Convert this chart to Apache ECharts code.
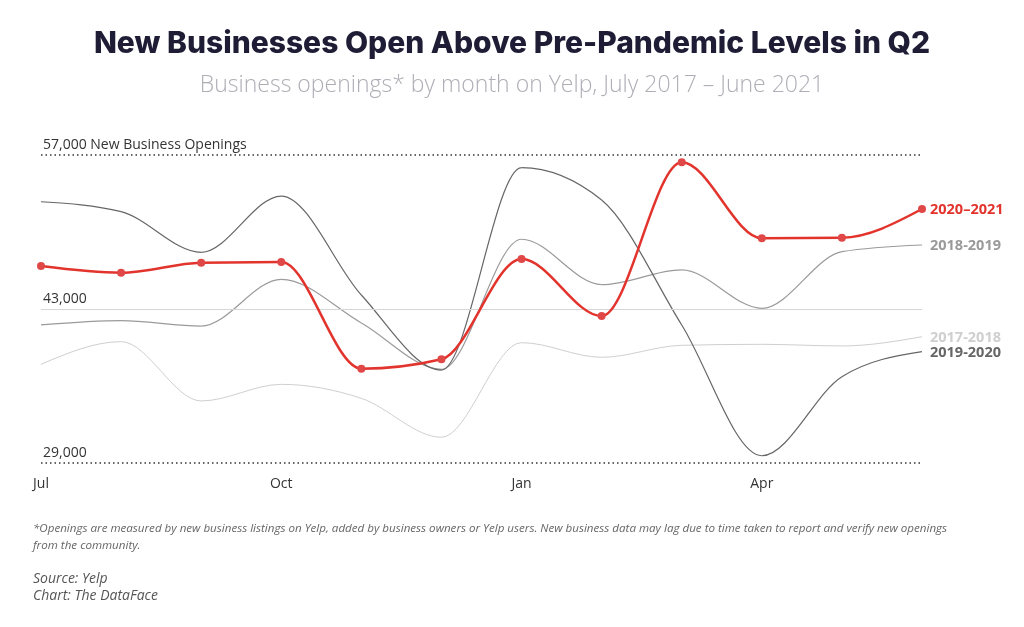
<!DOCTYPE html>
<html>
<head>
<meta charset="utf-8">
<script src="https://cdn.jsdelivr.net/npm/echarts@6/dist/echarts.min.js"></script>
<style>
html,body{margin:0;padding:0;background:#fff;}
#chart{width:1024px;height:627px;}
</style>
</head>
<body>
<div id="chart"></div>
<script>
const months = ['Jul','Aug','Sep','Oct','Nov','Dec','Jan','Feb','Mar','Apr','May','Jun'];
const s2017 = [37970, 40030, 34640, 36150, 34880, 31340, 39940, 38610, 39700, 39790, 39640, 40480];
const s2018 = [41550, 41940, 41450, 45700, 41730, 37520, 49340, 45210, 46550, 43060, 48210, 48820];
const s2019 = [52750, 51850, 48150, 53270, 44270, 37450, 55850, 52910, 41550, 29660, 36850, 39120];
const s2020 = [46900, 46300, 47210, 47270, 37570, 38430, 47545, 42360, 56340, 49430, 49480, 52090];
const refLines = [57000, 43000, 29000];
const refLabels = ['57,000 New Business Openings', '43,000', '29,000'];

const chart = echarts.init(document.getElementById('chart'), null, {renderer:'canvas'});
const font = '"Open Sans", "DejaVu Sans", sans-serif';

// monotone-X cubic tangents (as in d3.curveMonotoneX), computed in pixel space
function tangents(pts) {
  const n = pts.length, t = new Array(n);
  const sgn = v => v < 0 ? -1 : 1;
  for (let i = 1; i < n - 1; i++) {
    const h0 = pts[i][0] - pts[i-1][0], h1 = pts[i+1][0] - pts[i][0];
    const s0 = (pts[i][1] - pts[i-1][1]) / h0, s1 = (pts[i+1][1] - pts[i][1]) / h1;
    const p = (s0 * h1 + s1 * h0) / (h0 + h1);
    t[i] = (sgn(s0) + sgn(s1)) * Math.min(Math.abs(s0), Math.abs(s1), 0.5 * Math.abs(p)) || 0;
  }
  const hs = pts[1][0] - pts[0][0];
  t[0] = (3 * (pts[1][1] - pts[0][1]) / hs - t[1]) / 2;
  const he = pts[n-1][0] - pts[n-2][0];
  t[n-1] = (3 * (pts[n-1][1] - pts[n-2][1]) / he - t[n-2]) / 2;
  return t;
}

function curveSeries(name, values, color, width, dots, z) {
  return {
    name: name, type: 'custom', z: z, silent: true,
    data: values.map((v, i) => [i, v]),
    renderItem: function (params, api) {
      const i = params.dataIndex;
      const pts = values.map((v, k) => api.coord([k, v]));
      const t = tangents(pts);
      const children = [];
      if (i < pts.length - 1) {
        const a = pts[i], b = pts[i+1], dx = (b[0] - a[0]) / 3;
        children.push({
          type: 'bezierCurve',
          shape: {x1: a[0], y1: a[1], x2: b[0], y2: b[1],
                  cpx1: a[0] + dx, cpy1: a[1] + dx * t[i],
                  cpx2: b[0] - dx, cpy2: b[1] - dx * t[i+1]},
          style: {stroke: color, lineWidth: width, fill: null}
        });
      }
      if (dots) {
        children.push({type: 'circle', z2: 10, shape: {cx: pts[i][0], cy: pts[i][1], r: 4},
          style: {fill: '#e04848'}});
      }
      if (i === pts.length - 1) {
        children.push({type: 'text', x: pts[i][0] + 8, y: pts[i][1] + 1,
          style: {text: name, fill: color, font: 'bold 14.5px "Open Sans", sans-serif',
                  align: 'left', verticalAlign: 'middle'}});
      }
      return {type: 'group', children: children};
    }
  };
}

const option = {
  animation: false,
  backgroundColor: '#fff',
  title: [
    {text: 'New Businesses Open Above Pre-Pandemic Levels in Q2', left: 'center', top: 24,
     textStyle: {fontFamily: 'Inter, "Open Sans", sans-serif', fontWeight: 800, fontSize: 30, color: '#1f1d35'}},
    {text: 'Business openings* by month on Yelp, July 2017 \u2013 June 2021', left: 'center', top: 69,
     textStyle: {fontFamily: font, fontWeight: 300, fontSize: 23, color: '#aeaeb6'}},
  ],
  graphic: [
    {type:'text', left: 33, top: 520, style:{text:'*Openings are measured by new business listings on Yelp, added by business owners or Yelp users. New business data may lag due to time taken to report and verify new openings\nfrom the community.', font:'italic 11.6px "Open Sans", sans-serif', fill:'#666', lineHeight: 17}},
    {type:'text', left: 33, top: 571, style:{text:'Source: Yelp\nChart: The DataFace', font:'italic 14px "Open Sans", sans-serif', fill:'#555', lineHeight: 17}}
  ],
  grid: {left: 41, right: 102, top: 155, bottom: 164, containLabel: false},
  xAxis: {
    type: 'category', data: months, boundaryGap: false,
    axisLine: {show: false}, axisTick: {show: false}, splitLine: {show: false},
    axisLabel: {interval: 2, color: '#333', fontFamily: font, fontSize: 14, margin: 14}
  },
  yAxis: {
    type: 'value', min: 29000, max: 57000,
    axisLine: {show: false}, axisTick: {show: false}, splitLine: {show: false}, axisLabel: {show: false}
  },
  series: [
    {
      name: 'ref', type: 'line', data: [], silent: true,
      markLine: {
        silent: true, symbol: 'none', animation: false,
        label: {show: true, position: 'insideStartTop', color: '#333', fontFamily: font, fontSize: 14, distance: [2, 3]},
        data: refLines.map((v, i) => ({
          yAxis: v,
          label: {formatter: refLabels[i]},
          lineStyle: i === 1 ? {type: 'solid', color: '#d6d6d6', width: 1} : {type: [1.5, 3], color: '#333', width: 1.5}
        }))
      }
    },
    curveSeries('2017-2018', s2017, '#cfcfcf', 1, false, 2),
    curveSeries('2018-2019', s2018, '#9a9a9a', 1.2, false, 3),
    curveSeries('2019-2020', s2019, '#666666', 1.2, false, 4),
    curveSeries('2020\u20132021', s2020, '#e2342d', 2.5, true, 5)
  ]
};
chart.setOption(option);
</script>
</body>
</html>
